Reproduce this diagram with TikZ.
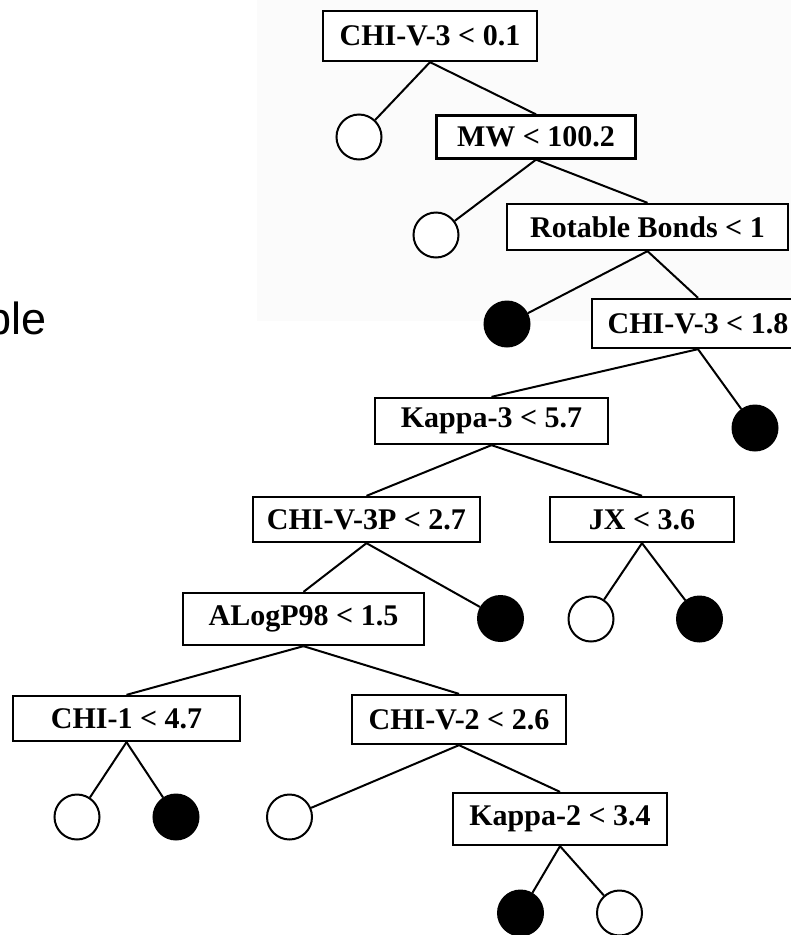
\documentclass[tikz,border=0pt]{standalone}
\usepackage{fontspec}
\setmainfont{Liberation Serif}
\newfontfamily\labelsans{Liberation Sans}
\definecolor{faintgray}{RGB}{251,251,251}
\begin{document}
\begin{tikzpicture}[x=1pt,y=-1pt,
  testbox/.style={draw=black, line width=2.3pt, fill=white, inner sep=0pt,
    font=\fontsize{30}{34}\selectfont\bfseries},
  leafw/.style={circle, draw=black, line width=2pt, fill=white, minimum size=45pt, inner sep=0pt},
  leafb/.style={circle, draw=black, line width=2pt, fill=black, minimum size=45pt, inner sep=0pt},
  branch/.style={draw=black, line width=2pt}]
\useasboundingbox (0,0) rectangle (791,935);
\fill[white] (0,0) rectangle (791,935);
\fill[faintgray] (257,0) rectangle (791,321);
\node[anchor=base east, font=\labelsans\fontsize{45}{50}\selectfont] (lbl) at (50,334) {ble};
% boxes
\node[testbox, minimum width=214pt, minimum height=50pt] (b1) at (430,36) {CHI-V-3 < 0.1};
\node[testbox, minimum width=199pt, minimum height=43pt] (b2) at (536,137) {MW < 100.2};
\node[testbox, minimum width=281pt, minimum height=46pt] (b3) at (647.5,227) {Rotable Bonds < 1};
\node[testbox, minimum width=212pt, minimum height=49pt] (b4) at (698,323.5) {CHI-V-3 < 1.8};
\node[testbox, minimum width=233pt, minimum height=46pt] (b5) at (491.5,421) {Kappa-3 < 5.7};
\node[testbox, minimum width=227pt, minimum height=45pt] (b6) at (366.5,519.5) {CHI-V-3P < 2.7};
\node[testbox, minimum width=184pt, minimum height=45pt] (b7) at (642,519.5) {JX < 3.6};
\node[testbox, minimum width=241pt, minimum height=52pt] (b8) at (303.5,619) {ALogP98 < 1.5};
\node[testbox, minimum width=227pt, minimum height=45pt] (b9) at (126.5,718.5) {CHI-1 < 4.7};
\node[testbox, minimum width=214pt, minimum height=49pt] (b10) at (459,719.5) {CHI-V-2 < 2.6};
\node[testbox, minimum width=214pt, minimum height=52pt] (b11) at (560,819) {Kappa-2 < 3.4};
% leaves
\node[leafw] (c1) at (359,137) {};
\node[leafw] (c2) at (436,235) {};
\node[leafb] (c3) at (507,324) {};
\node[leafb] (c4) at (755,428) {};
\node[leafb] (c5) at (500.5,618.5) {};
\node[leafw] (c6) at (591,619) {};
\node[leafb] (c7) at (699.5,619) {};
\node[leafw] (c8) at (77,817) {};
\node[leafb] (c9) at (176,817) {};
\node[leafw] (c10) at (289.5,817) {};
\node[leafb] (c11) at (520.5,913) {};
\node[leafw] (c12) at (619.5,913) {};
% branches
\draw[branch] (b1.south) -- (c1);
\draw[branch] (b1.south) -- (b2.north);
\draw[branch] (b2.south) -- (c2);
\draw[branch] (b2.south) -- (b3.north);
\draw[branch] (b3.south) -- (c3);
\draw[branch] (b3.south) -- (b4.north);
\draw[branch] (b4.south) -- (b5.north);
\draw[branch] (b4.south) -- (c4);
\draw[branch] (b5.south) -- (b6.north);
\draw[branch] (b5.south) -- (b7.north);
\draw[branch] (b6.south) -- (b8.north);
\draw[branch] (b6.south) -- (c5);
\draw[branch] (b7.south) -- (c6);
\draw[branch] (b7.south) -- (c7);
\draw[branch] (b8.south) -- (b9.north);
\draw[branch] (b8.south) -- (b10.north);
\draw[branch] (b9.south) -- (c8);
\draw[branch] (b9.south) -- (c9);
\draw[branch] (b10.south) -- (c10);
\draw[branch] (b10.south) -- (b11.north);
\draw[branch] (b11.south) -- (c11);
\draw[branch] (b11.south) -- (c12);
\end{tikzpicture}
\end{document}
